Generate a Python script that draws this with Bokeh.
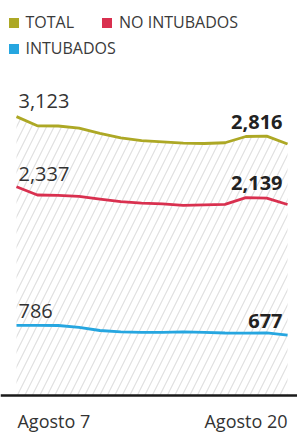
from bokeh.plotting import figure
from bokeh.models import ColumnDataSource, Range1d, Span, Legend, LegendItem
from bokeh.core.properties import value
from bokeh.embed import file_html
from bokeh.resources import INLINE

# ---- data ----
days = list(range(14))  # Agosto 7 .. Agosto 20
tick_labels = ["Agosto 7", "Agosto 20"]
total = [3123, 3020, 3018, 2995, 2935, 2885, 2855, 2840, 2825, 2822, 2830, 2900, 2905, 2816]
no_intubados = [2337, 2245, 2240, 2230, 2200, 2170, 2155, 2145, 2130, 2135, 2140, 2215, 2210, 2139]
intubados = [786, 786, 784, 762, 728, 712, 708, 708, 712, 706, 700, 698, 702, 677]
series_names = ["TOTAL", "NO INTUBADOS", "INTUBADOS"]

C_TOTAL = "#ada825"
C_NO = "#d9304f"
C_INT = "#26a6e0"
TXT = "#333333"
FONT = "Open Sans"

W, H = 297, 432
p = figure(width=W, height=H, output_backend="svg", toolbar_location=None,
           x_range=Range1d(-0.767, 13.477), y_range=Range1d(-414, 4423),
           min_border=0, outline_line_color=None, background_fill_color="white",
           border_fill_color="white")
p.xaxis.visible = False
p.yaxis.visible = False
p.grid.visible = False

src = ColumnDataSource(dict(x=days, total=total, no=no_intubados, intu=intubados,
                            zero=[0] * len(days)))

# hatched area under total
p.varea(x="x", y1="zero", y2="total", source=src, fill_alpha=0,
        hatch_pattern="/", hatch_color="#e0e0e0", hatch_scale=15, hatch_weight=1.2)

# baseline
p.add_layout(Span(location=0, dimension="width", line_color="#1a1a1a", line_width=2.5))

# lines
r_t = p.line("x", "total", source=src, line_color=C_TOTAL, line_width=2.8)
r_n = p.line("x", "no", source=src, line_color=C_NO, line_width=2.8)
r_i = p.line("x", "intu", source=src, line_color=C_INT, line_width=2.8)

# value labels at start and end
series = [total, no_intubados, intubados]
start_off = [-16, -13, -14]
end_off = [-22, -21, -14]
p.text(x=[days[0]] * 3, y=[s[0] for s in series],
       text=[f"{s[0]:,}" for s in series], y_offset=start_off, x_offset=2,
       text_font=value(FONT), text_font_size="20px", text_color=TXT,
       text_align="left", text_baseline="alphabetic")
p.text(x=[days[-1]] * 3, y=[s[-1] for s in series],
       text=[f"{s[-1]:,}" for s in series], y_offset=end_off, x_offset=-5,
       text_font=value(FONT), text_font_size="20px", text_color="#222222",
       text_font_style="bold", text_align="right", text_baseline="alphabetic")

# date labels
p.text(x=[days[0]], y=[0], text=[tick_labels[0]], y_offset=25, x_offset=1,
       text_font=value(FONT), text_font_size="18px", text_color=TXT,
       text_align="left", text_baseline="alphabetic")
p.text(x=[days[-1]], y=[0], text=[tick_labels[1]], y_offset=25, x_offset=0,
       text_font=value(FONT), text_font_size="18px", text_color=TXT,
       text_align="right", text_baseline="alphabetic")

# legend swatch renderers (invisible in plot, square swatches in legend)
sw = {}
for name, col, key in zip(series_names, [C_TOTAL, C_NO, C_INT], ["total", "no", "intu"]):
    sw[name] = p.scatter("x", key, source=src, marker="square", size=0,
                         fill_color=col, line_color=None)

common = dict(glyph_width=25, glyph_height=25, label_text_font=FONT,
              label_text_font_size="16px", label_text_color="#3a3a3a",
              label_standoff=0, padding=0, margin=0, border_line_color=None,
              background_fill_alpha=0, orientation="horizontal")
leg1 = Legend(items=[LegendItem(label=series_names[0], renderers=[sw[series_names[0]]]),
                     LegendItem(label=series_names[1], renderers=[sw[series_names[1]]])],
              location=(0.5, 397.5), spacing=20, **common)
leg2 = Legend(items=[LegendItem(label=series_names[2], renderers=[sw[series_names[2]]])],
              location=(0.5, 371.5), spacing=0, **common)
p.add_layout(leg1)
p.add_layout(leg2)

open("out.html", "w").write(file_html(p, INLINE))
